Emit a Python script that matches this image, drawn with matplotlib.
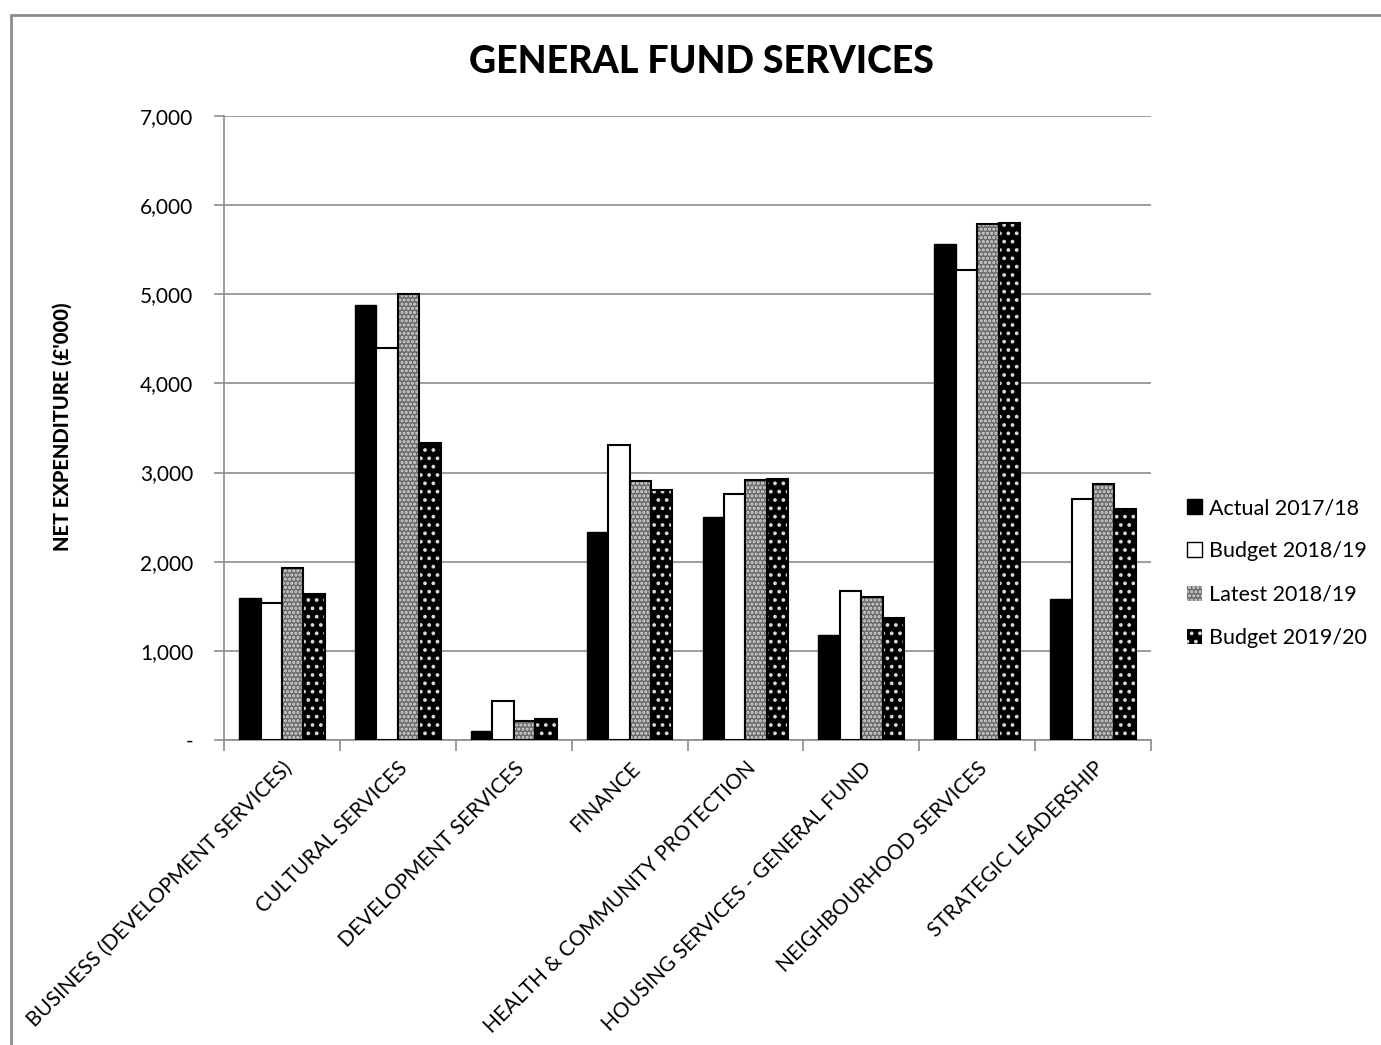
import numpy as np
import matplotlib
matplotlib.use("Agg")
import matplotlib.pyplot as plt
from matplotlib.patches import Rectangle, Patch
from matplotlib.ticker import FuncFormatter

plt.rcParams['font.family'] = ['Lato', 'DejaVu Sans']
plt.rcParams['hatch.linewidth'] = 1.5

categories = ['BUSINESS (DEVELOPMENT SERVICES)', 'CULTURAL SERVICES', 'DEVELOPMENT SERVICES',
              'FINANCE', 'HEALTH & COMMUNITY PROTECTION', 'HOUSING SERVICES - GENERAL FUND',
              'NEIGHBOURHOOD SERVICES', 'STRATEGIC LEADERSHIP']
series_names = ['Actual 2017/18', 'Budget 2018/19', 'Latest 2018/19', 'Budget 2019/20']
actual_1718 = [1590, 4880, 100, 2330, 2500, 1180, 5560, 1580]
budget_1819 = [1540, 4400, 440, 3310, 2760, 1670, 5270, 2700]
latest_1819 = [1930, 5000, 210, 2910, 2920, 1600, 5790, 2870]
budget_1920 = [1640, 3330, 235, 2800, 2930, 1370, 5800, 2590]
y_ticks = [0, 1000, 2000, 3000, 4000, 5000, 6000, 7000]

W, H = 1381, 1045
fig = plt.figure(figsize=(W / 100, H / 100), dpi=100)
ax = fig.add_axes([224 / W, 1 - 740 / H, (1151 - 224) / W, (740 - 116) / H])

# outer chart border (runs off the right and bottom)
fig.patches.append(Rectangle((11 / W, -0.05), 1.1, 1.05 - 15 / H,
                             transform=fig.transFigure, fill=False,
                             edgecolor='#8c8c8c', linewidth=2, clip_on=False))

x = np.arange(len(categories))
bw = 0.185
offsets = (np.arange(4) - 1.5) * bw

ax.bar(x + offsets[0], actual_1718, bw, color='black', edgecolor='black', linewidth=1, zorder=3)
ax.bar(x + offsets[1], budget_1819, bw, color='white', edgecolor='black', linewidth=1.5, zorder=3)
# latest: grey checker
ax.bar(x + offsets[2], latest_1819, bw, color='#6a6a6a', edgecolor='#d8d8d8', hatch='....',
       linewidth=0, zorder=3)
ax.bar(x + offsets[2], latest_1819, bw, fill=False, edgecolor='black', linewidth=1.5, zorder=4)
# budget 19/20: black with white dots
ax.bar(x + offsets[3], budget_1920, bw, color='black', edgecolor='#d8d8d8', hatch='..',
       linewidth=0, zorder=3)
ax.bar(x + offsets[3], budget_1920, bw, fill=False, edgecolor='black', linewidth=1.5, zorder=4)

ax.set_xlim(-0.5, len(categories) - 0.5)
ax.set_ylim(0, 7000)
ax.set_yticks(y_ticks)
ax.yaxis.set_major_formatter(FuncFormatter(lambda v, p: '-' if v == 0 else f'{int(v):,}'))
ax.yaxis.grid(True, color='#8c8c8c', linewidth=1.2, zorder=0)
ax.set_axisbelow(True)

ax.set_xticks(np.arange(len(categories) + 1) - 0.5, minor=False)
ax.set_xticklabels([])
ax.set_xticks(x, minor=True)
ax.set_xticklabels(categories, minor=True, rotation=45, ha='right', va='top',
                   rotation_mode='anchor', fontsize=15)
ax.tick_params(axis='x', which='minor', length=0, pad=13)
ax.tick_params(axis='x', which='major', length=8, color='#8c8c8c', width=1.2)
ax.tick_params(axis='y', length=7, color='#8c8c8c', width=1.2, labelsize=15, pad=15)

for s in ['top', 'right']:
    ax.spines[s].set_visible(False)
for s in ['left', 'bottom']:
    ax.spines[s].set_color('#8c8c8c')
    ax.spines[s].set_linewidth(1.2)

ax.set_ylabel("NET EXPENDITURE (£'000)", fontsize=14.5, fontweight='black')
ax.yaxis.set_label_coords((72 - 224) / (1151 - 224), 0.502)

fig.text(701 / W, 1 - 62 / H, 'GENERAL FUND SERVICES', fontsize=27, fontweight='black',
         ha='center', va='center')

handles = [Patch(facecolor='black', edgecolor='black'),
           Patch(facecolor='white', edgecolor='black'),
           Patch(facecolor='#6a6a6a', edgecolor='#d8d8d8', hatch='....', linewidth=0),
           Patch(facecolor='black', edgecolor='#d8d8d8', hatch='..', linewidth=0)]
fig.legend(handles, series_names, loc='center left', bbox_to_anchor=(1168 / W, 1 - 573 / H),
           frameon=False, fontsize=15.5, handlelength=0.7, handleheight=0.7,
           handletextpad=0.3, labelspacing=1.08)

fig.savefig('out.png', dpi=100)
